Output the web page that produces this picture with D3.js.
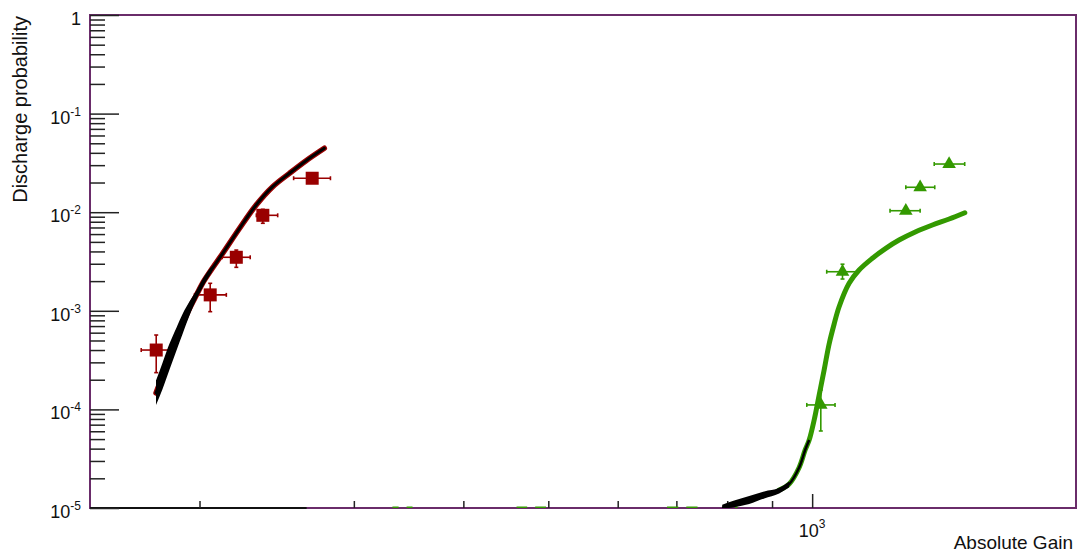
<!DOCTYPE html>
<html>
<head>
<meta charset="utf-8">
<script src="https://cdn.jsdelivr.net/npm/d3@7"></script>
<style>
  body { margin: 0; background: #fff; }
  svg { display: block; font-family: "Liberation Sans", Arial, Helvetica, sans-serif; }
</style>
</head>
<body>
<svg id="chart" width="1080" height="554"></svg>
<script>
// ==============================
// DATA
// ==============================
// red measurements (square markers)
const redGain   = [178.5, 205.7, 220.3, 236.2, 268.9];
const redGainLo = [171.6, 197.4, 212.3, 232.2, 256.1];
const redGainHi = [185.7, 214.6, 228.5, 245.6, 282.1];
const redProb   = [4.0e-4, 1.45e-3, 3.49e-3, 9.3e-3, 2.21e-2];
const redProbLo = [2.36e-4, 9.8e-4, 2.76e-3, 7.72e-3, 2.15e-2];
const redProbHi = [5.68e-4, 1.90e-3, 4.13e-3, 1.07e-2, 2.27e-2];

// green measurements (triangle markers)
const greenGain   = [1023, 1083, 1279, 1328, 1433];
const greenGainLo = [986, 1039, 1227, 1279, 1378];
const greenGainHi = [1062, 1128, 1328, 1380, 1493];
const greenProb   = [1.11e-4, 2.49e-3, 1.035e-2, 1.79e-2, 3.08e-2];
const greenProbLo = [6.04e-5, 2.10e-3, 1.0e-2, 1.75e-2, 3.02e-2];
const greenProbHi = [1.573e-4, 2.97e-3, 1.07e-2, 1.83e-2, 3.14e-2];

// green points with zero probability (only x errors visible on the axis)
const greenZeroGain = [341, 478, 711, 808];
const greenZeroLo   = [332, 460, 683, 795];
const greenZeroHi   = [350, 497, 740, 822];

// red model curve
const redModelGain = [178.4, 181.5, 184.9, 188.3, 191.3, 194.8, 198.4, 202.1, 206.4, 212.6, 222.2, 232.1, 242.4, 253.3, 264.6, 277.6];
const redModelProb = [1.47e-4, 2.18e-4, 3.48e-4, 5.18e-4, 7.35e-4, 1.055e-3, 1.446e-3, 1.973e-3, 2.62e-3, 3.83e-3, 6.87e-3, 1.183e-2, 1.814e-2, 2.48e-2, 3.33e-2, 4.45e-2];
// black band at low end of red model
const redBandGain = [178.4, 181.5, 184.9, 188.3, 191.3, 194.8, 198.4, 202.1, 206.4];
const redBandLo   = [1.108e-4, 1.61e-4, 2.55e-4, 3.99e-4, 5.82e-4, 8.96e-4, 1.31e-3, 1.80e-3, 2.43e-3];
const redBandHi   = [1.963e-4, 2.98e-4, 4.68e-4, 6.77e-4, 9.28e-4, 1.24e-3, 1.61e-3, 2.16e-3, 2.83e-3];

// green model curve
const greenModelGain = [789.5, 814.9, 847.6, 881.7, 917.0, 941.4, 966.4, 981.8, 992.2, 1005.3, 1018.6, 1032.0, 1045.6, 1059.5, 1073.4, 1102.0, 1131.3, 1171.5, 1213.5, 1256.6, 1313.0, 1371.5, 1433.1, 1493.4];
const greenModelProb = [1.0e-5, 1.098e-5, 1.22e-5, 1.387e-5, 1.523e-5, 1.751e-5, 2.575e-5, 3.875e-5, 4.89e-5, 7.81e-5, 1.40e-4, 2.51e-4, 4.61e-4, 7.35e-4, 1.10e-3, 1.90e-3, 2.59e-3, 3.41e-3, 4.30e-3, 5.22e-3, 6.34e-3, 7.42e-3, 8.53e-3, 9.88e-3];
// black band at low end of green model
const greenBandGain = [789.5, 814.9, 847.6, 881.7, 917.0, 941.4];
const greenBandLo   = [9.8e-6, 1.02e-5, 1.10e-5, 1.25e-5, 1.40e-5, 1.62e-5];
const greenBandHi   = [1.08e-5, 1.19e-5, 1.32e-5, 1.47e-5, 1.60e-5, 1.86e-5];

// axis ticks / labels
const yMajor = [1, 1e-1, 1e-2, 1e-3, 1e-4, 1e-5];
const yMajorExp = [null, "-1", "-2", "-3", "-4", "-5"];
const xMajor = [1000];
const xMajorExp = ["3"];

// ==============================
// SVG + SCALES
// ==============================
const svg = d3.select("#chart");
const W = 1080, H = 554;
const frameL = 90, frameR = 1076, frameT = 15, frameB = 508;

const RED = "#990000";
const GREEN = "#339900";
const FRAME = "#6a2c6a";

svg.append("rect").attr("width", W).attr("height", H).attr("fill", "#fff");

const x = d3.scaleLog().domain([150, 2000]).range([frameL, frameR]);
const y = d3.scaleLog().domain([1e-5, 1]).range([frameB, frameT]);

svg.append("defs").append("clipPath").attr("id", "plot-clip")
  .append("rect")
  .attr("x", frameL).attr("y", frameT)
  .attr("width", frameR - frameL).attr("height", frameB - frameT);

// ==============================
// FRAME + AXES
// ==============================
svg.append("rect")
  .attr("x", frameL).attr("y", frameT)
  .attr("width", frameR - frameL).attr("height", frameB - frameT)
  .attr("fill", "none")
  .attr("stroke", FRAME)
  .attr("stroke-width", 2);

// left part of the bottom axis is drawn black
svg.append("line")
  .attr("x1", x(150)).attr("x2", x(265))
  .attr("y1", frameB).attr("y2", frameB)
  .attr("stroke", "#111").attr("stroke-width", 2);

function styleAxis(g) {
  g.select(".domain").remove();
  g.selectAll(".tick line").attr("stroke", "#222").attr("stroke-width", 1.5);
}

const yMinor = y.ticks().filter(v => !yMajor.some(m => Math.abs(m - v) / m < 1e-6));
svg.append("g").attr("transform", `translate(${frameL},0)`)
  .call(d3.axisRight(y).tickValues(yMinor).tickSize(15).tickFormat(""))
  .call(styleAxis);
svg.append("g").attr("transform", `translate(${frameL},0)`)
  .call(d3.axisRight(y).tickValues(yMajor).tickSize(29).tickFormat(""))
  .call(styleAxis);

const xMinor = x.ticks().filter(v => v !== 1000 && v !== 2000);
svg.append("g").attr("transform", `translate(0,${frameB})`)
  .call(d3.axisTop(x).tickValues(xMinor).tickSize(7).tickFormat(""))
  .call(styleAxis);
svg.append("g").attr("transform", `translate(0,${frameB})`)
  .call(d3.axisTop(x).tickValues(xMajor).tickSize(14).tickFormat(""))
  .call(styleAxis);

// y tick labels
yMajor.forEach((v, i) => {
  const t = svg.append("text")
    .attr("x", 81)
    .attr("y", y(v) + 10)
    .attr("text-anchor", "end")
    .attr("fill", "#111")
    .style("font-size", "18px");
  if (yMajorExp[i] === null) {
    t.text("1");
  } else {
    t.append("tspan").text("10");
    t.append("tspan").attr("dy", -8).style("font-size", "12px").text(yMajorExp[i]);
  }
});

// x tick labels
xMajor.forEach((v, i) => {
  const t = svg.append("text")
    .attr("x", x(v))
    .attr("y", 537)
    .attr("text-anchor", "middle")
    .attr("fill", "#111")
    .style("font-size", "18px");
  t.append("tspan").text("10");
  t.append("tspan").attr("dy", -9).style("font-size", "12px").text(xMajorExp[i]);
});

// titles
svg.append("text")
  .attr("transform", "translate(27,16) rotate(-90)")
  .attr("text-anchor", "end")
  .attr("fill", "#111")
  .style("font-size", "20px")
  .text("Discharge probability");

svg.append("text")
  .attr("x", 1073).attr("y", 549)
  .attr("text-anchor", "end")
  .attr("fill", "#111")
  .style("font-size", "19px")
  .text("Absolute Gain");

// ==============================
// PLOT CONTENT
// ==============================
const plot = svg.append("g").attr("clip-path", "url(#plot-clip)");

function errorBars(g, gain, gLo, gHi, prob, pLo, pHi, color) {
  const cap = 2;
  gain.forEach((gv, i) => {
    const cx = x(gv), cy = y(prob[i]);
    const bar = g.append("g").attr("stroke", color).attr("stroke-width", 1.6);
    bar.append("line").attr("x1", x(gLo[i])).attr("x2", x(gHi[i])).attr("y1", cy).attr("y2", cy);
    bar.append("line").attr("x1", x(gLo[i])).attr("x2", x(gLo[i])).attr("y1", cy - cap).attr("y2", cy + cap);
    bar.append("line").attr("x1", x(gHi[i])).attr("x2", x(gHi[i])).attr("y1", cy - cap).attr("y2", cy + cap);
    bar.append("line").attr("x1", cx).attr("x2", cx).attr("y1", y(pLo[i])).attr("y2", y(pHi[i]));
    bar.append("line").attr("x1", cx - cap).attr("x2", cx + cap).attr("y1", y(pLo[i])).attr("y2", y(pLo[i]));
    bar.append("line").attr("x1", cx - cap).attr("x2", cx + cap).attr("y1", y(pHi[i])).attr("y2", y(pHi[i]));
  });
}

// zero-probability green points: x errors on the bottom axis
greenZeroGain.forEach((gv, i) => {
  const gap = 4;
  plot.append("line")
    .attr("x1", x(greenZeroLo[i])).attr("x2", x(gv) - gap)
    .attr("y1", frameB - 0.5).attr("y2", frameB - 0.5)
    .attr("stroke", GREEN).attr("stroke-width", 2);
  plot.append("line")
    .attr("x1", x(gv) + gap).attr("x2", x(greenZeroHi[i]))
    .attr("y1", frameB - 0.5).attr("y2", frameB - 0.5)
    .attr("stroke", GREEN).attr("stroke-width", 2);
});

// red points
errorBars(plot, redGain, redGainLo, redGainHi, redProb, redProbLo, redProbHi, RED);
plot.selectAll("rect.red-pt")
  .data(redGain)
  .enter()
  .append("rect")
  .attr("class", "red-pt")
  .attr("x", d => x(d) - 6.5)
  .attr("y", (d, i) => y(redProb[i]) - 6.5)
  .attr("width", 13).attr("height", 13)
  .attr("fill", RED);

// green points
errorBars(plot, greenGain, greenGainLo, greenGainHi, greenProb, greenProbLo, greenProbHi, GREEN);
plot.selectAll("path.green-pt")
  .data(greenGain)
  .enter()
  .append("path")
  .attr("class", "green-pt")
  .attr("d", d3.symbol(d3.symbolTriangle, 80))
  .attr("transform", (d, i) => `translate(${x(d)},${y(greenProb[i])})`)
  .attr("fill", GREEN);

// curves
const line = d3.line()
  .x(d => x(d[0]))
  .y(d => y(d[1]))
  .curve(d3.curveCatmullRom.alpha(0.5));

const area = d3.area()
  .x(d => x(d[0]))
  .y0(d => y(d[1]))
  .y1(d => y(d[2]))
  .curve(d3.curveMonotoneX);

const redModel = redModelGain.map((g, i) => [g, redModelProb[i]]);
const redBand = redBandGain.map((g, i) => [g, redBandLo[i], redBandHi[i]]);
const greenModel = greenModelGain.map((g, i) => [g, greenModelProb[i]]);
const greenBand = greenBandGain.map((g, i) => [g, greenBandLo[i], greenBandHi[i]]);

plot.append("path").attr("d", line(redModel))
  .attr("fill", "none").attr("stroke", RED).attr("stroke-width", 5.5)
  .attr("stroke-linecap", "round");
plot.append("path").attr("d", area(redBand)).attr("fill", "#000");
plot.append("path").attr("d", line(redModel))
  .attr("fill", "none").attr("stroke", "#000").attr("stroke-width", 3)
  .attr("stroke-linecap", "round");

plot.append("path").attr("d", line(greenModel.slice(4)))
  .attr("fill", "none").attr("stroke", GREEN).attr("stroke-width", 5)
  .attr("stroke-linecap", "round");
plot.append("path").attr("d", area(greenBand)).attr("fill", "#000");
plot.append("path").attr("d", line(greenModel.slice(0, 9)))
  .attr("fill", "none").attr("stroke", "#000").attr("stroke-width", 2.5);
</script>
</body>
</html>
